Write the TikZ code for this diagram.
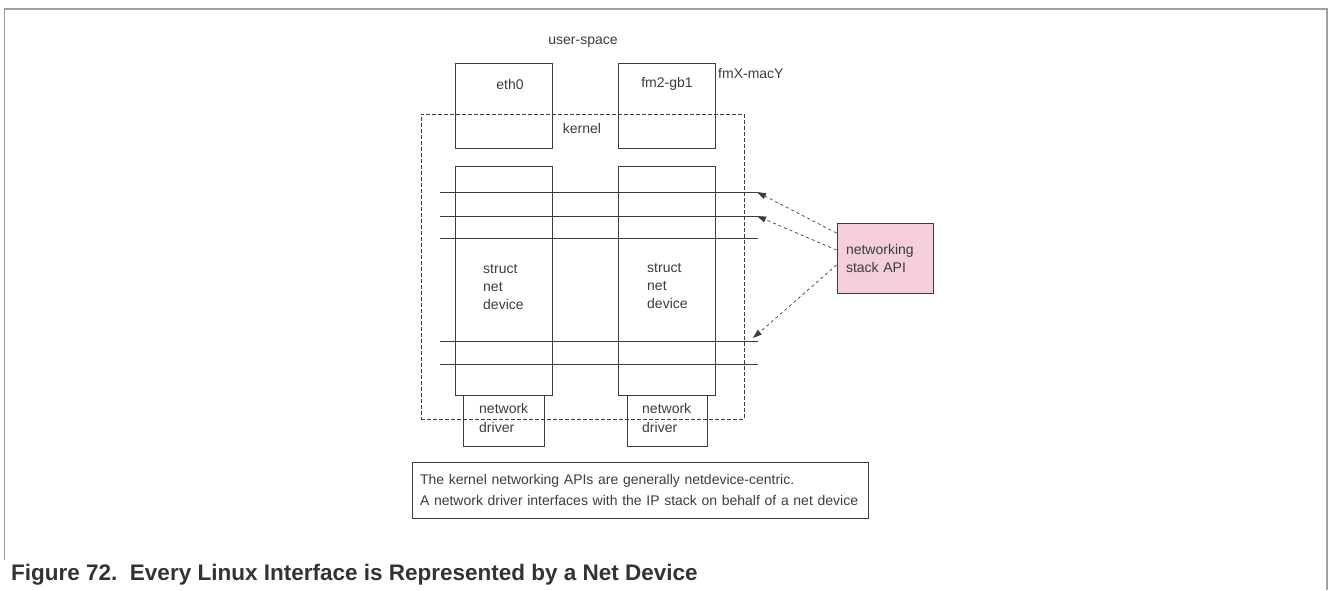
\documentclass[tikz,border=0pt]{standalone}
\usepackage{fontspec}
\setmainfont{Liberation Sans}
\usetikzlibrary{arrows.meta,positioning}
\definecolor{apipink}{RGB}{244,206,216}
\definecolor{inkgray}{RGB}{60,60,60}

\begin{document}
\begin{tikzpicture}[x=1pt, y=-1pt,
    every node/.style={font=\fontsize{14}{18}\selectfont, text=inkgray, inner sep=0pt},
    box/.style={draw=inkgray, line width=1pt},
    wire/.style={draw=inkgray, line width=1pt},
    apiarrow/.style={-{Triangle[length=9pt,width=6pt]}, dashed, inkgray, line width=0.7pt}]
    \useasboundingbox (0,0) rectangle (1328,590);
    \draw[gray!75, line width=1.5pt] (4.5,560) -- (4.5,9) -- (1327,9) -- (1327,590);
    \node (user) at (583,42) {user-space};
    \node[box, minimum width=97pt, minimum height=85pt] (eth) at (503.5,105.5) {};
    \node[box, minimum width=97pt, minimum height=85pt] (fm) at (666.5,105.5) {};
    \node (ethlbl) at (510,84) {eth0};
    \node (fmlbl) at (667,84) {fm2-gb1};
    \node[anchor=west] (macy) at (718,73) {fmX-macY};
    \node[box, dashed, dash pattern=on 4pt off 2pt, minimum width=323pt, minimum height=305pt] (kern) at (582.5,266.5) {};
    \node (kernlbl) at (582,128) {kernel};
    % struct net device columns
    \node[box, minimum width=97pt, minimum height=229pt] (sleft) at (503.5,280.5) {};
    \node[box, minimum width=97pt, minimum height=229pt] (sright) at (666.5,280.5) {};
    \node[align=left, anchor=west] at (483,287) {struct\\net\\device};
    \node[align=left, anchor=west] at (647,286) {struct\\net\\device};
    \node[box, minimum width=81pt, minimum height=51pt] (dleft) at (503.5,420.5) {};
    \node[box, minimum width=80pt, minimum height=51pt] (dright) at (667,420.5) {};
    \node[align=left, anchor=west, font=\fontsize{14}{19}\selectfont] at (479,417.5) {network\\driver};
    \node[align=left, anchor=west, font=\fontsize{14}{19}\selectfont] at (642,417.5) {network\\driver};
    % API lines across both devices
    \foreach \y/\n in {192/a, 216/b, 238/c, 341/d, 364/e} {
        \coordinate (l\n) at (440,\y);
        \coordinate (r\n) at (758,\y);
        \draw[wire] (l\n) -- (r\n);
    }
    \node[box, fill=apipink, minimum width=96pt, minimum height=70pt, align=left, text width=78pt] (api) at (885,258) {networking\\stack API};
    \draw[apiarrow] ([yshift=25pt]api.west) -- ([xshift=-1pt]ra);
    \draw[apiarrow] ([yshift=8pt]api.west) -- ([xshift=-1pt]rb);
    \draw[apiarrow] ([yshift=-7pt]api.west) -- ([xshift=-5pt,yshift=3pt]rd);
    \node[box, minimum width=456pt, minimum height=56pt, align=left, text width=440pt] (note) at (640,490)
        {The kernel networking APIs are generally netdevice-centric.\\[3pt]A network driver interfaces with the IP stack on behalf of a net device};
    \node[anchor=west, font=\fontsize{22.5}{26}\selectfont\bfseries, text=black!80] (cap) at (11,575)
        {Figure 72.\ \ Every Linux Interface is Represented by a Net Device};
\end{tikzpicture}
\end{document}
